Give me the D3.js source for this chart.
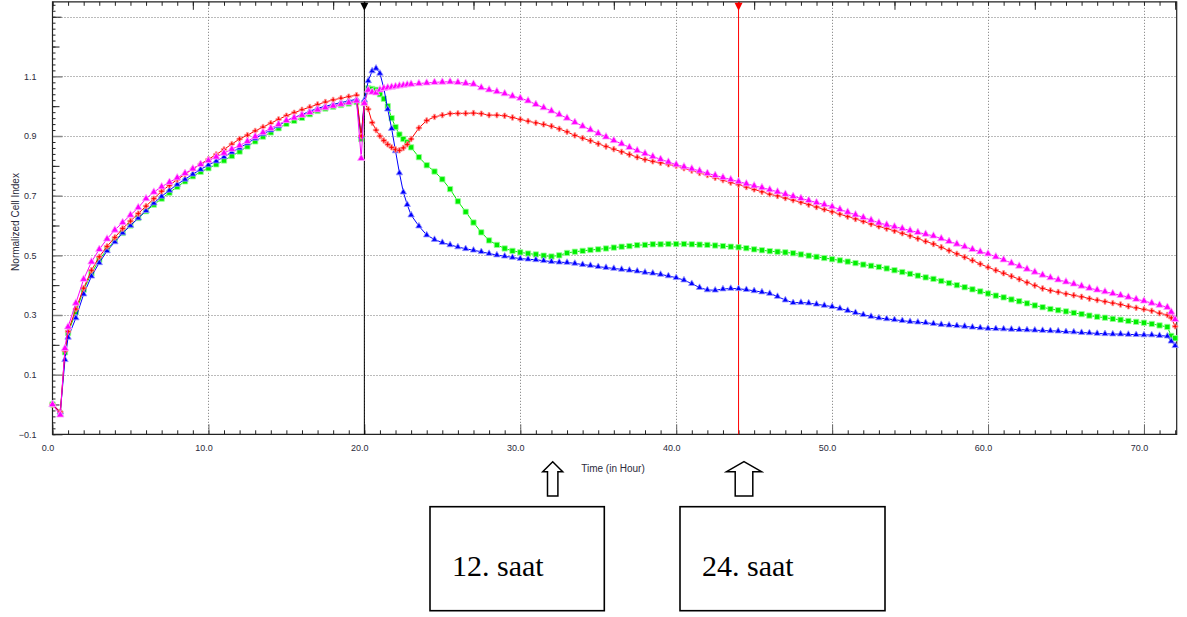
<!DOCTYPE html>
<html><head><meta charset="utf-8">
<script src="https://cdn.jsdelivr.net/npm/d3@7"></script>
<style>body{margin:0;background:#fff;} svg{display:block;}</style>
</head><body>
<script>
// ---------- DATA ----------
const times = [0, 0.5, 0.8,
 1.0,1.5,2.0,2.5,3.0,3.5,4.0,4.5,5.0,5.5,
 6.0,6.5,7.0,7.5,8.0,8.5,9.0,9.5,10.0,10.5,
 11.0,11.5,12.0,12.5,13.0,13.5,14.0,14.5,15.0,15.5,
 16.0,16.5,17.0,17.5,18.0,18.5,19.0,19.5,
 19.8,
 20.0,20.25,20.5,20.75,21.0,21.25,21.5,21.75,22.0,22.25,22.5,22.75,
 23.0,23.5,24.0,24.5,25.0,25.5,26.0,26.5,27.0,27.5,
 28.0,28.5,29.0,29.5,30.0,30.5,31.0,31.5,32.0,32.5,
 33.0,33.5,34.0,34.5,35.0,35.5,36.0,36.5,37.0,37.5,
 38.0,38.5,39.0,39.5,40.0,40.5,41.0,41.5,42.0,42.5,
 43.0,43.5,44.0,44.5,45.0,45.5,46.0,46.5,47.0,47.5,
 48.0,48.5,49.0,49.5,50.0,50.5,51.0,51.5,52.0,52.5,
 53.0,53.5,54.0,54.5,55.0,55.5,56.0,56.5,57.0,57.5,
 58.0,58.5,59.0,59.5,60.0,60.5,61.0,61.5,62.0,62.5,
 63.0,63.5,64.0,64.5,65.0,65.5,66.0,66.5,67.0,67.5,
 68.0,68.5,69.0,69.5,70.0,70.5,71.0,71.5,
 71.75,72.0];

const redSeries = [0.0,-0.025,0.18,
 0.245,0.32,0.39,0.45,0.495,0.53,0.56,0.59,0.615,0.64,
 0.665,0.69,0.715,0.735,0.754,0.772,0.79,0.806,0.822,0.838,
 0.855,0.873,0.89,0.903,0.917,0.93,0.943,0.956,0.968,0.978,
 0.988,0.997,1.006,1.014,1.021,1.027,1.032,1.037,
 0.90,
 1.01,0.99,0.945,0.92,0.90,0.885,0.872,0.862,0.855,0.852,0.86,0.872,
 0.89,0.927,0.952,0.964,0.970,0.975,0.976,0.976,0.977,0.975,
 0.970,0.970,0.968,0.962,0.956,0.950,0.944,0.939,0.933,0.924,
 0.914,0.902,0.893,0.884,0.874,0.865,0.856,0.847,0.838,0.829,
 0.821,0.815,0.810,0.805,0.800,0.792,0.784,0.776,0.769,0.760,
 0.752,0.744,0.737,0.729,0.721,0.713,0.705,0.699,0.692,0.685,
 0.678,0.670,0.662,0.654,0.646,0.638,0.630,0.622,0.614,0.605,
 0.597,0.590,0.582,0.574,0.565,0.556,0.547,0.538,0.527,0.516,
 0.505,0.494,0.483,0.471,0.460,0.450,0.440,0.430,0.420,0.409,
 0.399,0.389,0.382,0.377,0.371,0.366,0.361,0.355,0.350,0.345,
 0.340,0.335,0.329,0.324,0.319,0.314,0.306,0.300,
 0.29,0.262];

const magentaSeries = [0.0,-0.035,0.188,
 0.26,0.34,0.42,0.478,0.52,0.555,0.585,0.61,0.635,0.66,
 0.69,0.712,0.73,0.745,0.76,0.775,0.79,0.805,0.818,0.83,
 0.843,0.856,0.868,0.882,0.898,0.912,0.926,0.939,0.952,0.961,
 0.970,0.979,0.988,0.995,1.001,1.007,1.012,1.018,
 0.825,
 1.01,1.054,1.047,1.045,1.055,1.06,1.062,1.064,1.066,1.068,1.07,1.072,
 1.074,1.076,1.078,1.08,1.081,1.082,1.08,1.077,1.074,1.062,
 1.055,1.049,1.042,1.034,1.027,1.018,1.006,0.995,0.984,0.972,
 0.960,0.946,0.933,0.921,0.909,0.897,0.885,0.874,0.862,0.851,
 0.841,0.831,0.822,0.813,0.804,0.797,0.790,0.783,0.775,0.768,
 0.761,0.754,0.747,0.740,0.733,0.727,0.720,0.713,0.705,0.698,
 0.691,0.684,0.677,0.670,0.663,0.654,0.645,0.636,0.627,0.618,
 0.609,0.602,0.596,0.590,0.583,0.577,0.571,0.565,0.556,0.547,
 0.538,0.529,0.520,0.512,0.505,0.495,0.485,0.474,0.464,0.454,
 0.444,0.434,0.425,0.418,0.411,0.404,0.397,0.390,0.384,0.378,
 0.372,0.366,0.360,0.353,0.347,0.340,0.333,0.326,
 0.31,0.285];

const greenSeries = [0.0,-0.03,0.175,
 0.24,0.31,0.385,0.44,0.485,0.52,0.55,0.575,0.60,0.625,
 0.648,0.67,0.69,0.71,0.73,0.748,0.765,0.78,0.792,0.805,
 0.818,0.833,0.848,0.865,0.882,0.898,0.912,0.926,0.941,0.951,
 0.961,0.973,0.984,0.992,0.998,1.004,1.009,1.014,
 0.89,
 1.01,1.06,1.058,1.055,1.04,1.025,1.0,0.96,0.93,0.905,0.89,0.879,
 0.862,0.829,0.802,0.781,0.755,0.722,0.681,0.646,0.61,0.577,
 0.55,0.535,0.523,0.515,0.51,0.506,0.503,0.499,0.496,0.50,
 0.508,0.512,0.515,0.518,0.520,0.523,0.526,0.529,0.531,0.534,
 0.535,0.537,0.537,0.538,0.538,0.538,0.537,0.536,0.535,0.533,
 0.531,0.529,0.527,0.524,0.520,0.517,0.514,0.512,0.510,0.507,
 0.503,0.499,0.495,0.491,0.487,0.483,0.479,0.474,0.469,0.465,
 0.461,0.456,0.450,0.444,0.438,0.432,0.426,0.421,0.414,0.407,
 0.400,0.393,0.386,0.379,0.372,0.365,0.359,0.352,0.346,0.339,
 0.332,0.326,0.320,0.316,0.312,0.307,0.303,0.298,0.294,0.291,
 0.287,0.284,0.280,0.277,0.274,0.270,0.265,0.260,
 0.23,0.222];

const blueSeries = [0.0,-0.025,0.15,
 0.225,0.29,0.37,0.43,0.475,0.515,0.545,0.575,0.60,0.625,
 0.65,0.675,0.698,0.718,0.738,0.755,0.772,0.788,0.803,0.816,
 0.83,0.846,0.86,0.876,0.892,0.907,0.92,0.934,0.952,0.962,
 0.972,0.983,0.993,1.000,1.006,1.012,1.018,1.023,
 0.90,
 1.02,1.085,1.118,1.127,1.11,1.06,0.99,0.925,0.85,0.776,0.712,0.67,
 0.635,0.598,0.568,0.553,0.543,0.535,0.528,0.522,0.517,0.512,
 0.506,0.501,0.497,0.493,0.489,0.487,0.485,0.482,0.479,0.477,
 0.476,0.473,0.469,0.466,0.462,0.459,0.456,0.453,0.450,0.447,
 0.443,0.440,0.436,0.431,0.425,0.417,0.405,0.392,0.384,0.383,
 0.387,0.389,0.388,0.385,0.381,0.377,0.372,0.362,0.350,0.341,
 0.342,0.340,0.336,0.332,0.328,0.322,0.315,0.308,0.301,0.295,
 0.290,0.287,0.284,0.281,0.278,0.276,0.274,0.271,0.268,0.266,
 0.264,0.262,0.259,0.257,0.255,0.254,0.253,0.252,0.251,0.250,
 0.249,0.248,0.247,0.246,0.244,0.243,0.241,0.240,0.238,0.237,
 0.236,0.236,0.235,0.234,0.233,0.233,0.231,0.229,
 0.212,0.197];

const xMajorTicks = [0,10,20,30,40,50,60,70];
const yLabelTicks = [-0.1,0.1,0.3,0.5,0.7,0.9,1.1];
const yGridTicks = [0.1,0.3,0.5,0.7,0.9,1.1,1.3];
const markerTimes = [20.0, 44.0];
const markerColors = ["#000000", "#ff0000"];
const boxLabels = ["12. saat", "24. saat"];
const xTitle = "Time (in Hour)";
const yTitle = "Normalized Cell Index";

// ---------- CHART ----------
const W = 1187, H = 617;
const svg = d3.select("body").append("svg").attr("width", W).attr("height", H);

const x = d3.scaleLinear().domain([0, 72.1]).range([52.5, 1176.7]);
const y = d3.scaleLinear().domain([-0.1, 1.35]).range([434.3, 1.8]);
const x0 = x.range()[0], x1 = x.range()[1], y0 = y.range()[0], y1 = y.range()[1];

// grid
const grid = svg.append("g").attr("stroke", "#777").attr("stroke-width", 1).attr("stroke-dasharray", "1,2");
grid.selectAll("line.h").data(yGridTicks).join("line")
  .attr("x1", x0).attr("x2", x1).attr("y1", d => Math.round(y(d)) + 0.5).attr("y2", d => Math.round(y(d)) + 0.5);
grid.selectAll("line.v").data(xMajorTicks.slice(1)).join("line")
  .attr("y1", y1).attr("y2", y0).attr("x1", d => Math.round(x(d)) + 0.5).attr("x2", d => Math.round(x(d)) + 0.5);

// axes
function styleAxis(g, color) {
  g.select(".domain").remove();
  g.selectAll(".tick line").attr("stroke", color);
}
const tickFont = "Liberation Sans, Arial, sans-serif";
// bottom minor
svg.append("g").attr("transform", `translate(0,${y0})`)
  .call(d3.axisBottom(x).tickValues(d3.range(0, 73, 1)).tickSize(-4).tickFormat(""))
  .call(g => styleAxis(g, "#222"));
// bottom major
const bx = svg.append("g").attr("transform", `translate(0,${y0})`)
  .call(d3.axisBottom(x).tickValues(xMajorTicks).tickSize(-10).tickPadding(10).tickFormat(d3.format(".1f")))
  .call(g => styleAxis(g, "#666"));
bx.selectAll("text").attr("font-family", tickFont).attr("font-size", 9).attr("fill", "#2b2b3b").attr("dx", -5);
// top minor / major
svg.append("g").attr("transform", `translate(0,${y1})`)
  .call(d3.axisTop(x).tickValues(d3.range(0, 73, 1)).tickSize(-4).tickFormat(""))
  .call(g => styleAxis(g, "#222"));
svg.append("g").attr("transform", `translate(0,${y1})`)
  .call(d3.axisTop(x).tickValues(d3.range(0, 73, 9)).tickSize(-8).tickFormat(""))
  .call(g => styleAxis(g, "#222"));
// left minor
svg.append("g").attr("transform", `translate(${x0},0)`)
  .call(d3.axisLeft(y).tickValues(d3.range(-0.1, 1.351, 0.02)).tickSize(-3).tickFormat(""))
  .call(g => styleAxis(g, "#222"));
svg.append("g").attr("transform", `translate(${x0},0)`)
  .call(d3.axisLeft(y).tickValues(d3.range(0, 1.35, 0.2)).tickSize(-7).tickFormat(""))
  .call(g => styleAxis(g, "#222"));
svg.append("g").attr("transform", `translate(${x0},0)`)
  .call(d3.axisLeft(y).tickValues([1.3]).tickSize(-9).tickFormat(""))
  .call(g => styleAxis(g, "#222"));
const ly = svg.append("g").attr("transform", `translate(${x0},0)`)
  .call(d3.axisLeft(y).tickValues(yLabelTicks).tickSize(-10).tickPadding(16).tickFormat(d3.format(".1f")))
  .call(g => styleAxis(g, "#888"));
ly.selectAll(".tick line").attr("stroke-width", 1.5);
ly.selectAll("text").attr("font-family", tickFont).attr("font-size", 9).attr("fill", "#2b2b3b");

// frame
svg.append("path").attr("fill", "none").attr("stroke", "#222").attr("stroke-width", 1.2)
  .attr("d", `M${x0},${y0}H${x1}V${y1}H${x0}Z`);

// titles
svg.append("text").attr("x", 613).attr("y", 472).attr("text-anchor", "middle")
  .attr("font-family", tickFont).attr("font-size", 10).attr("fill", "#2b2b3b").text(xTitle);
svg.append("text").attr("transform", "translate(19,222) rotate(-90)").attr("text-anchor", "middle")
  .attr("font-family", tickFont).attr("font-size", 10).attr("fill", "#2b2b3b").text(yTitle);

// vertical marker lines
markerTimes.forEach((t, i) => {
  svg.append("line").attr("x1", x(t)).attr("x2", x(t)).attr("y1", y1).attr("y2", y0)
    .attr("stroke", markerColors[i]).attr("stroke-width", 1);
  const cx = x(t);
  svg.append("path").attr("d", `M${cx - 4},${y1 + 1}L${cx + 4},${y1 + 1}L${cx},${y1 + 9}Z`).attr("fill", markerColors[i]);
});

// series
const series = [
  {name: "green", values: greenSeries, color: "#00ee00", halo: "#99ff99", sym: d3.symbolSquare, size: 28},
  {name: "blue", values: blueSeries, color: "#0000ff", halo: "#9999ff", sym: d3.symbolTriangle, size: 18},
  {name: "red", values: redSeries, color: "#ff0000", halo: "#ff9999", sym: d3.symbolCross, size: 16},
  {name: "magenta", values: magentaSeries, color: "#ff00ff", halo: "#ffaaff", sym: d3.symbolTriangle, size: 24}
];
const line = d3.line().x(d => x(d[0])).y(d => y(d[1]));
series.forEach(s => {
  const pts = times.map((t, i) => [t, s.values[i]]);
  const g = svg.append("g");
  g.append("path").datum(pts).attr("d", line).attr("fill", "none").attr("stroke", s.color).attr("stroke-width", 1);
  g.selectAll("path.m").data(pts).join("path").attr("class", "m")
    .attr("transform", d => `translate(${x(d[0])},${y(d[1])})`)
    .attr("d", d3.symbol().type(s.sym).size(s.size))
    .attr("fill", s.color).attr("stroke", s.halo).attr("stroke-width", 0.8);
});

// annotations: hollow arrows and boxes
const arrows = [
  {tip: 552.7, hw: 10, sw: 5.2},
  {tip: 744, hw: 17.5, sw: 8.8}
];
arrows.forEach(a => {
  const t = 461.7, hb = 471.7, b = 496;
  svg.append("path")
    .attr("d", `M${a.tip},${t}L${a.tip + a.hw},${hb}L${a.tip + a.sw},${hb}L${a.tip + a.sw},${b}L${a.tip - a.sw},${b}L${a.tip - a.sw},${hb}L${a.tip - a.hw},${hb}Z`)
    .attr("fill", "#fff").attr("stroke", "#000").attr("stroke-width", 1.5);
});
const boxes = [{x: 430, w: 174.3}, {x: 680, w: 205}];
boxes.forEach((b, i) => {
  svg.append("rect").attr("x", b.x).attr("y", 506.7).attr("width", b.w).attr("height", 104)
    .attr("fill", "#fff").attr("stroke", "#000").attr("stroke-width", 1.6);
  svg.append("text").attr("x", b.x + 22).attr("y", 576)
    .attr("font-family", "Liberation Serif, Times New Roman, serif").attr("font-size", 30).attr("fill", "#000")
    .text(boxLabels[i]);
});
</script>
</body></html>
